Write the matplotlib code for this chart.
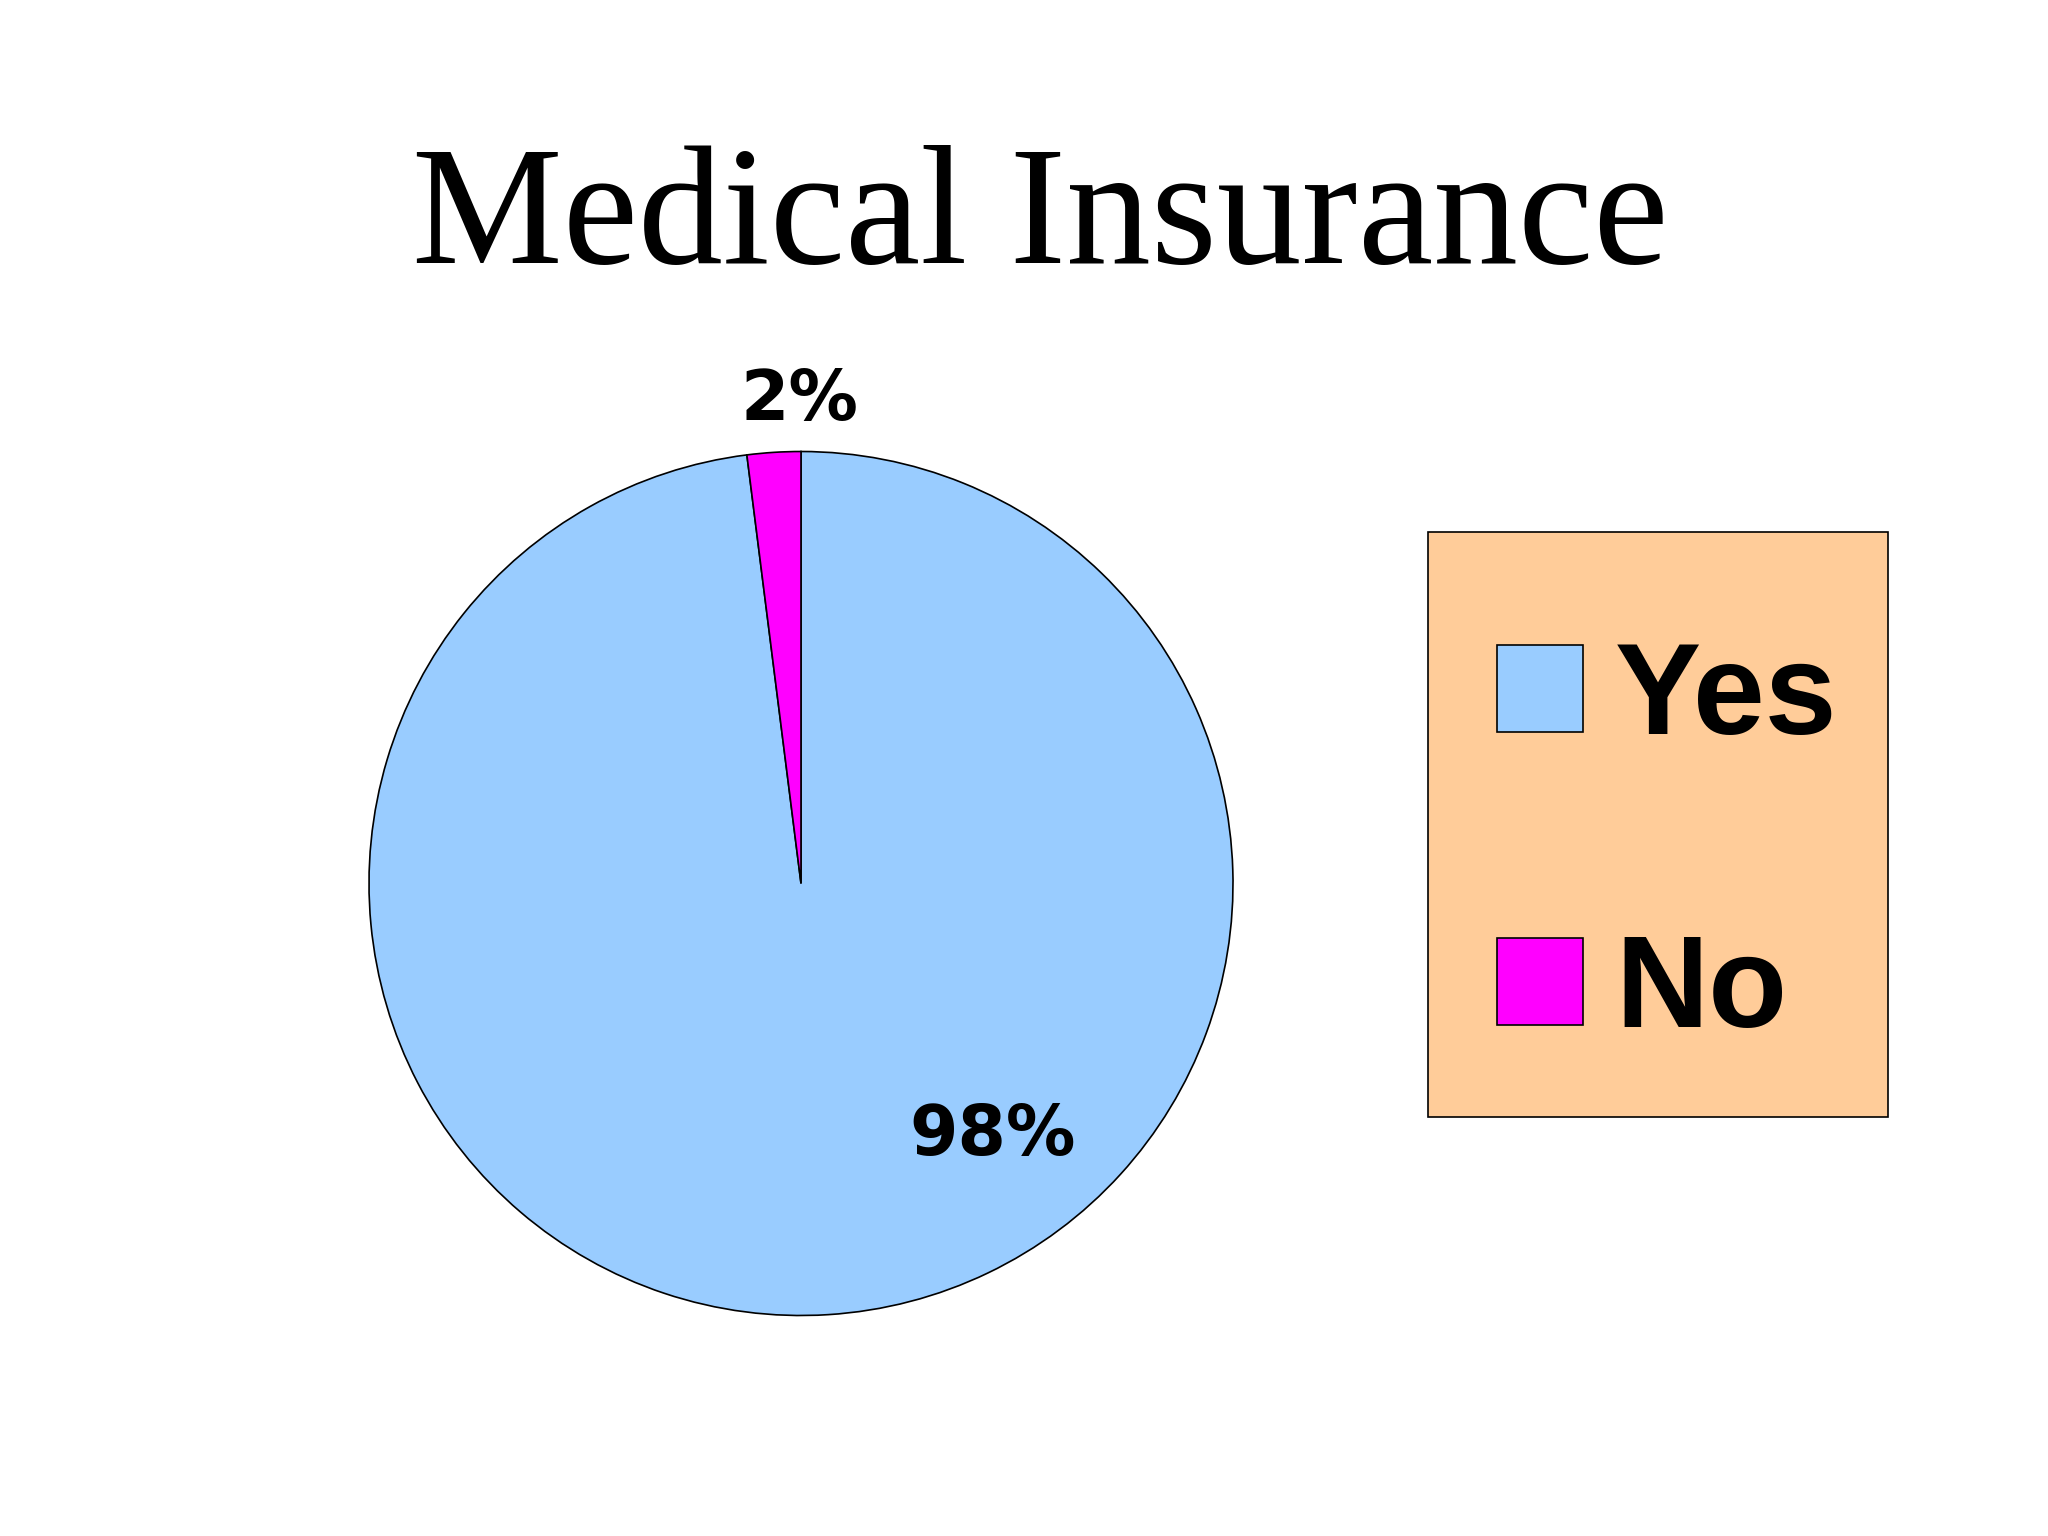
import matplotlib
matplotlib.use("Agg")
import matplotlib.pyplot as plt
from matplotlib.patches import Rectangle

# ---- data ----
title = "Medical Insurance"
categories = ["Yes", "No"]
values = [98, 2]
colors = ["#99CCFF", "#FF00FF"]
legend_bg = "#FFCC99"

# ---- layout ----
W, H, DPI = 2048, 1536, 100
fig = plt.figure(figsize=(W / DPI, H / DPI), dpi=DPI, facecolor="white")

# pie axes (square in pixels)
cx, cy, r = 801, 883.5, 432
ax = fig.add_axes([(cx - r) / W, (H - cy - r) / H, 2 * r / W, 2 * r / H])
wedges, _ = ax.pie(values, colors=colors, startangle=90, counterclock=False,
                   wedgeprops=dict(edgecolor="black", linewidth=1.2))
for w in wedges:
    w.set_clip_on(False)
ax.set_xlim(-1, 1)
ax.set_ylim(-1, 1)
ax.set_axis_off()

# percentage labels (position in data units, baseline anchored)
label_pos = {"Yes": (0.443, -0.628), "No": (-0.003, 1.073)}
for cat, v in zip(categories, values):
    x, y = label_pos[cat]
    ax.text(x, y, f"{v}%", ha="center", va="baseline", fontsize=50,
            fontweight="bold", family="DejaVu Sans", color="black")

# title
fig.text(1040 / W, 1 - 263 / H, title, ha="center", va="baseline",
         fontsize=122, family="Liberation Serif", color="black")

# legend box
bx0, by0, bx1, by1 = 1428, 532, 1888, 1117
fig.patches.append(Rectangle((bx0 / W, 1 - by1 / H), (bx1 - bx0) / W, (by1 - by0) / H,
                             transform=fig.transFigure, facecolor=legend_bg,
                             edgecolor="black", linewidth=1.2, zorder=0))

fs = 93
fs_px = fs * DPI / 72
leg = fig.legend(wedges, categories, loc="upper left",
                 bbox_to_anchor=(1497 / W, 1 - 640 / H), bbox_transform=fig.transFigure,
                 borderaxespad=0, borderpad=0, frameon=False,
                 handlelength=86 / fs_px, handleheight=86 / fs_px,
                 handletextpad=32 / fs_px, labelspacing=1.33,
                 prop=dict(family="Liberation Sans", weight="bold", size=fs))

fig.savefig("out.png", dpi=DPI, facecolor="white")
